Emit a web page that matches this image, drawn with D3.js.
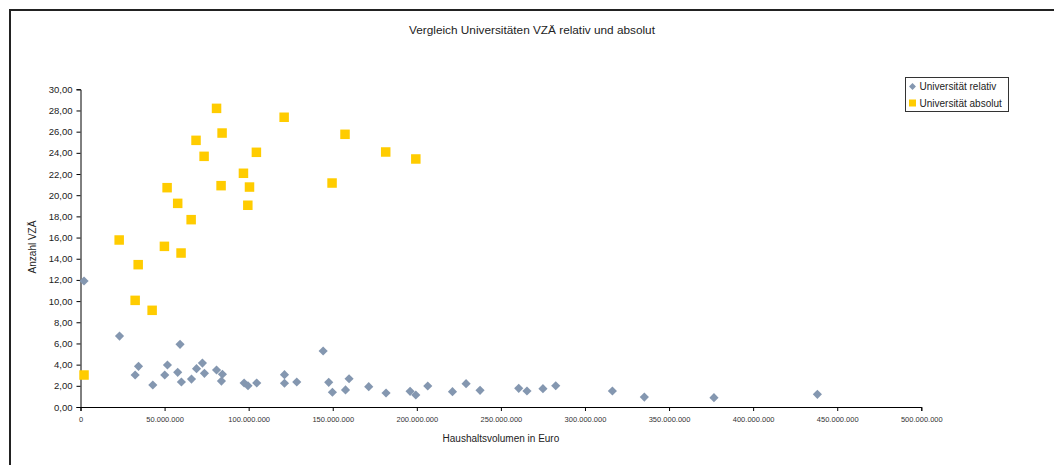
<!DOCTYPE html>
<html>
<head>
<meta charset="utf-8">
<script src="https://cdn.jsdelivr.net/npm/d3@7"></script>
<style>
  html, body { margin: 0; padding: 0; background: #fff; }
  svg { display: block; font-family: "Liberation Sans", Arial, sans-serif; }
</style>
</head>
<body>
<svg id="chart" width="1054" height="465"></svg>
<script>
// Universität relativ: [Haushaltsvolumen in Euro, Anzahl VZÄ]
const relativX = [2.1e6, 23.2e6, 59.2e6, 34.5e6, 32.5e6, 43.0e6, 51.7e6, 50.1e6, 57.8e6, 60.0e6,
  66.0e6, 69.0e6, 72.5e6, 73.7e6, 80.9e6, 84.4e6, 83.8e6, 97.3e6, 99.6e6, 104.8e6,
  121.3e6, 121.3e6, 128.6e6, 144.3e6, 147.6e6, 149.8e6, 157.6e6, 159.7e6, 171.4e6, 181.7e6,
  196.0e6, 199.4e6, 206.5e6, 221.2e6, 229.3e6, 237.6e6, 260.6e6, 265.5e6, 275.0e6, 282.6e6,
  316.3e6, 335.3e6, 376.7e6, 438.2e6];
const relativY = [11.90, 6.70, 5.92, 3.84, 3.02, 2.08, 3.97, 3.02, 3.27, 2.36,
  2.64, 3.62, 4.15, 3.18, 3.49, 3.09, 2.45, 2.27, 2.01, 2.27,
  3.05, 2.24, 2.36, 5.29, 2.33, 1.39, 1.61, 2.67, 1.92, 1.32,
  1.48, 1.13, 1.98, 1.45, 2.20, 1.57, 1.76, 1.51, 1.73, 2.01,
  1.51, 0.94, 0.88, 1.20];

// Universität absolut
const absolutX = [2.1e6, 23.0e6, 32.5e6, 34.3e6, 42.6e6, 49.9e6, 51.5e6, 57.8e6, 59.8e6, 65.8e6,
  68.7e6, 73.5e6, 80.9e6, 83.6e6, 84.2e6, 96.9e6, 99.5e6, 100.5e6, 104.6e6, 121.1e6,
  149.6e6, 157.3e6, 181.5e6, 199.4e6];
const absolutY = [3.02, 15.77, 10.07, 13.44, 9.13, 15.17, 20.71, 19.23, 14.54, 17.69,
  25.18, 23.67, 28.20, 20.90, 25.87, 22.07, 19.05, 20.77, 24.05, 27.36,
  21.15, 25.75, 24.08, 23.42];

const xTicks = [0, 50e6, 100e6, 150e6, 200e6, 250e6, 300e6, 350e6, 400e6, 450e6, 500e6];
const yTicks = [0, 2, 4, 6, 8, 10, 12, 14, 16, 18, 20, 22, 24, 26, 28, 30];
const seriesNames = ["Universität relativ", "Universität absolut"];
const title = "Vergleich Universitäten VZÄ relativ und absolut";
const xTitle = "Haushaltsvolumen in Euro";
const yTitle = "Anzahl VZÄ";

const colorRel = "#8497b0";
const colorAbs = "#ffcc00";

const svg = d3.select("#chart");

// chart area frame
svg.append("path")
  .attr("d", "M10,470 L10,10 L1060,10")
  .attr("fill", "none")
  .attr("stroke", "#222")
  .attr("stroke-width", 2);

const plot = { left: 80.5, right: 921.3, top: 89.3, bottom: 407 };

const x = d3.scaleLinear().domain([0, 500e6]).range([plot.left, plot.right]);
const y = d3.scaleLinear().domain([0, 30]).range([plot.bottom, plot.top]);

const fmtX = v => v === 0 ? "0" : d3.format(",.0f")(v).replace(/,/g, ".");
const fmtY = v => d3.format(".2f")(v).replace(".", ",");

// axes
const xAxis = svg.append("g")
  .attr("transform", `translate(0,${plot.bottom})`)
  .call(d3.axisBottom(x).tickValues(xTicks).tickFormat(fmtX).tickSizeOuter(0).tickSize(4).tickPadding(6));
xAxis.selectAll("text").attr("font-size", 7.5).attr("fill", "#333").attr("font-family", "Liberation Sans, Arial, sans-serif");

const yAxis = svg.append("g")
  .attr("transform", `translate(${plot.left},0)`)
  .call(d3.axisLeft(y).tickValues(yTicks).tickFormat(fmtY).tickSizeOuter(0).tickSize(4).tickPadding(4));
yAxis.selectAll("text").attr("font-size", 9.5).attr("fill", "#222").attr("font-family", "Liberation Sans, Arial, sans-serif");

svg.selectAll(".domain").attr("stroke", "#000");
svg.selectAll(".tick line").attr("stroke", "#000");

// title and axis titles
svg.append("text")
  .attr("x", 532).attr("y", 34)
  .attr("text-anchor", "middle")
  .attr("font-size", 11.8)
  .attr("fill", "#222")
  .text(title);

svg.append("text")
  .attr("x", (plot.left + plot.right) / 2).attr("y", 442)
  .attr("text-anchor", "middle")
  .attr("font-size", 10)
  .attr("fill", "#222")
  .text(xTitle);

svg.append("text")
  .attr("transform", `translate(36,247) rotate(-90)`)
  .attr("text-anchor", "middle")
  .attr("font-size", 10)
  .attr("fill", "#222")
  .text(yTitle);

// markers
const diamond = d3.symbol().type(d3.symbolSquare).size(42);

svg.append("g").selectAll("path")
  .data(relativX.map((v, i) => [v, relativY[i]]))
  .join("path")
  .attr("d", diamond)
  .attr("transform", d => `translate(${x(d[0])},${y(d[1])}) rotate(45)`)
  .attr("fill", colorRel);

svg.append("g").selectAll("rect")
  .data(absolutX.map((v, i) => [v, absolutY[i]]))
  .join("rect")
  .attr("x", d => x(d[0]) - 4.75)
  .attr("y", d => y(d[1]) - 4.75)
  .attr("width", 9.5).attr("height", 9.5)
  .attr("fill", colorAbs);

// legend
const legend = svg.append("g");
legend.append("rect")
  .attr("x", 905.5).attr("y", 77.5)
  .attr("width", 103).attr("height", 34)
  .attr("fill", "#fff").attr("stroke", "#333").attr("stroke-width", 1);

legend.append("path")
  .attr("d", d3.symbol().type(d3.symbolSquare).size(24))
  .attr("transform", "translate(912.5,86.5) rotate(45)")
  .attr("fill", colorRel);
legend.append("rect")
  .attr("x", 909).attr("y", 99.5).attr("width", 7).attr("height", 7)
  .attr("fill", colorAbs);

legend.selectAll("text")
  .data(seriesNames)
  .join("text")
  .attr("x", 919.5)
  .attr("y", (d, i) => 90 + i * 16.5)
  .attr("font-size", 10)
  .attr("fill", "#222")
  .text(d => d);
</script>
</body>
</html>
